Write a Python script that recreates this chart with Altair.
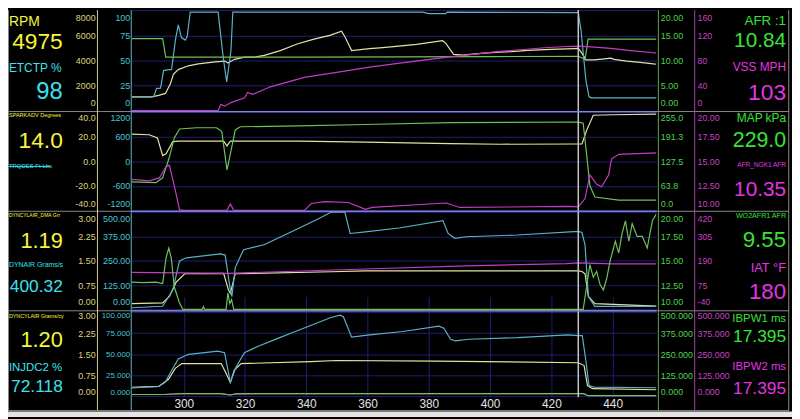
import altair as alt
import pandas as pd

FONT = "Liberation Sans"

# ---------------- data ----------------
T_DOMAIN = [283.0, 454.3]
X_TICKS = [300, 320, 340, 360, 380, 400, 420, 440]
CURSOR_T = [428.8]

# panel 1
rpm_t = [283.0, 289.5, 291.8, 294.0, 295.6, 296.6, 298.2, 301.5, 304.7, 307.5, 310.2, 313.4, 314.4, 315.4, 316.6, 319.9, 323.1, 326.3, 331.5, 337.0, 342.5, 347.7, 351.5, 352.6, 354.8, 360.6, 364.0, 369.3, 376.0, 384.5, 385.5, 388.1, 391.0, 396.0, 401.7, 407.0, 412.3, 420.0, 427.5, 428.8, 429.7, 431.3, 433.9, 436.5, 439.4, 440.5, 444.6, 449.0, 453.3, 454.3]
rpm_v = [1090, 1090, 1220, 1370, 2130, 2900, 3280, 3580, 3730, 3820, 3890, 3960, 3800, 3950, 4100, 4270, 4270, 4420, 4800, 5330, 5710, 6020, 6350, 5900, 4800, 4950, 5010, 5130, 5300, 5590, 5400, 4500, 4440, 4560, 4650, 4720, 4820, 4900, 4960, 4975, 4700, 4060, 4060, 4120, 4190, 4100, 3960, 3850, 3730, 3720]

etc_t = [283.0, 289.5, 290.2, 291.1, 292.4, 293.4, 295.0, 296.0, 297.3, 298.2, 299.2, 300.5, 301.1, 302.1, 311.2, 312.8, 314.0, 315.4, 316.0, 378.0, 380.0, 385.5, 386.0, 428.8, 429.7, 431.3, 432.3, 433.0, 454.3]
etc_v = [13.6, 13.6, 14.0, 22.2, 22.5, 40.0, 41.0, 41.0, 71.4, 85.7, 73.0, 70.5, 74.0, 98.5, 98.5, 55.0, 28.6, 60.0, 98.5, 98.5, 97.0, 97.0, 98.5, 98.0, 80.0, 30.0, 14.0, 12.7, 12.7]

afr_t = [283.0, 293.1, 294.1, 340.0, 400.0, 428.8, 430.2, 431.0, 432.0, 454.3]
afr_v = [14.4, 14.4, 10.7, 10.7, 10.8, 10.84, 10.5, 10.15, 14.3, 14.3]

vss_t = [283.0, 311.2, 312.1, 313.4, 315.4, 319.9, 320.8, 322.5, 328.3, 339.3, 349.9, 360.6, 369.3, 385.5, 401.6, 417.8, 425.0, 428.8, 433.0, 439.4, 446.0, 453.3, 454.3]
vss_v = [0, 0, 10, 7, 12.8, 20.3, 29, 26, 38, 53, 61, 69.6, 75, 85, 94, 100.5, 102.5, 103, 102, 99.5, 96, 92.5, 92]

# panel 2
spk_t = [283.0, 288.7, 291.4, 293.1, 294.2, 296.4, 298.6, 313.0, 314.1, 315.2, 337.2, 359.3, 386.8, 403.4, 428.8, 430.0, 431.5, 433.7, 440.0, 454.3]
spk_v = [22.1, 21.5, 18.9, 4.6, 6.0, 15.9, 16.3, 16.3, 12.4, 16.3, 16.3, 15.5, 14.3, 13.8, 14.0, 14.0, 25.0, 37.4, 37.8, 38.3]

map_t = [283.0, 290.9, 293.1, 295.3, 296.9, 298.6, 304.1, 310.7, 312.4, 314.1, 315.2, 316.8, 318.4, 337.2, 359.3, 386.8, 428.6, 428.8, 430.4, 431.5, 432.6, 434.2, 442.0, 454.3]
map_v = [73.7, 72.0, 84.4, 138.3, 188.0, 211.0, 214.3, 214.3, 204.3, 105.0, 146.5, 208.6, 216.8, 219.2, 222.7, 227.7, 229.2, 229.0, 226.0, 146.5, 63.8, 34.8, 26.6, 26.6]

ngk_t = [283.0, 288.7, 292.0, 294.2, 295.3, 296.9, 298.6, 299.7, 314.1, 315.2, 316.3, 339.4, 341.6, 346.0, 353.7, 359.3, 361.5, 385.7, 390.1, 425.4, 428.8, 431.0, 432.6, 434.8, 436.4, 438.7, 439.7, 442.0, 454.3]
ngk_v = [13.15, 13.0, 13.3, 14.45, 14.6, 12.5, 10.07, 9.5, 9.5, 10.65, 9.5, 9.6, 10.7, 10.9, 10.8, 10.1, 10.3, 10.75, 10.3, 10.4, 10.35, 11.2, 13.6, 12.65, 12.4, 13.6, 15.25, 15.7, 15.85]

# panel 3
dma_t = [283.0, 293.1, 295.3, 297.5, 300.3, 313.0, 314.6, 315.2, 316.8, 348.2, 359.3, 428.8, 430.0, 431.0, 432.1, 434.2, 454.3]
dma_v = [0.18, 0.20, 0.40, 0.84, 1.10, 1.11, 0.60, 0.50, 1.10, 1.16, 1.19, 1.19, 1.17, 1.10, 0.40, 0.18, 0.10]

dyn_t = [283.0, 293.1, 296.4, 298.6, 300.8, 311.9, 313.5, 315.2, 315.7, 316.8, 319.5, 326.2, 331.7, 337.2, 343.8, 348.2, 352.6, 354.3, 359.3, 370.3, 384.6, 386.3, 388.5, 392.3, 408.9, 428.8, 430.0, 431.0, 432.1, 434.2, 454.3]
dyn_v = [8.5, 16.4, 99.5, 249, 265, 285, 279, 99.5, 66, 215, 307, 332, 373, 414, 464, 505, 505, 390, 398, 418, 456, 390, 365, 373, 382, 400.3, 395, 332, 66, 16, 16]

wo2_t = [283.0, 286.5, 290.9, 293.1, 294.2, 295.1, 295.9, 296.9, 298.6, 299.7, 306.0, 306.4, 306.8, 313.8, 314.4, 315.0, 315.6, 316.3, 317.4, 318.4, 320.0, 428.8, 430.4, 431.5, 432.6, 433.7, 434.8, 435.9, 437.0, 438.1, 439.2, 440.9, 442.0, 443.1, 444.2, 445.3, 446.4, 448.0, 449.7, 451.3, 453.0, 454.3]
wo2_v = [12.8, 12.75, 12.8, 12.65, 15.3, 16.3, 15.3, 12.3, 10.67, 9.6, 9.6, 10.3, 9.6, 9.6, 11.7, 10.6, 11.0, 9.9, 9.8, 9.7, 9.55, 9.55, 9.84, 12.3, 14.6, 13.3, 13.9, 12.56, 12.0, 13.2, 15.0, 17.0, 15.8, 17.8, 19.1, 17.0, 18.8, 17.5, 17.5, 16.3, 19.1, 19.8]

iat_t = [283.0, 315.0, 359.3, 392.3, 425.0, 428.8, 440.0, 454.3]
iat_v = [135.3, 130.7, 150.9, 166.0, 176.5, 180.0, 175.0, 175.0]

# panel 4
cyl_t = [283.0, 291.8, 295.0, 297.2, 299.3, 312.2, 313.8, 315.2, 316.5, 318.7, 341.3, 349.9, 382.2, 428.8, 430.7, 431.8, 433.4, 454.3]
cyl_v = [0.33, 0.36, 0.61, 1.0, 1.17, 1.17, 0.83, 0.5, 0.94, 1.17, 1.24, 1.28, 1.26, 1.20, 1.10, 0.39, 0.28, 0.24]

inj_t = [283.0, 291.8, 293.9, 296.1, 298.2, 301.5, 306.8, 311.1, 313.3, 315.2, 317.1, 319.8, 324.1, 330.5, 337.0, 343.5, 347.8, 351.0, 352.1, 354.8, 360.7, 371.5, 383.3, 384.9, 387.1, 388.7, 393.0, 409.1, 425.3, 428.8, 430.1, 431.2, 432.3, 433.9, 454.3]
inj_v = [10.3, 11.9, 16.7, 31.4, 44.4, 50.0, 51.9, 53.7, 51.9, 16.7, 35.2, 51.9, 59.2, 68.6, 77.8, 87.0, 93.3, 96.3, 94.4, 70.3, 73.0, 77.0, 83.3, 80.8, 67.8, 65.9, 67.8, 69.7, 73.0, 72.1, 72.2, 44.4, 13.0, 11.1, 10.4]

pw1_t = [283.0, 293.5, 296.5, 299.0, 312.0, 315.2, 317.0, 330.0, 428.8, 430.5, 432.0, 454.3]
pw1_v = [12.0, 12.0, 15.0, 17.0, 17.0, 9.0, 16.0, 17.5, 17.4, 17.0, 5.0, 5.0]
pw2_t = [283.0, 293.5, 296.5, 299.0, 312.0, 315.2, 317.0, 330.0, 428.8, 430.5, 432.0, 454.3]
pw2_v = [12.0, 12.0, 15.0, 17.0, 17.0, 9.0, 16.0, 17.5, 17.4, 17.0, 5.0, 5.0]

# axis tick labels
RPM_TICKS = [0, 2000, 4000, 6000, 8000]
ETC_TICKS = [0, 25, 50, 75, 100]
AFR_TICKS = [0, 5, 10, 15, 20]
VSS_TICKS = [0, 40, 80, 120, 160]
SPK_TICKS = [-40, -20, 0, 20, 40]
TRQ_TICKS = [-1200, -600, 0, 600, 1200]
MAP_TICKS = [0, 63.75, 127.5, 191.25, 255]
NGK_TICKS = [10, 12.5, 15, 17.5, 20]
DMA_TICKS = [0, 0.75, 1.5, 2.25, 3]
DYN_TICKS = [0, 125, 250, 375, 500]
WO2_TICKS = [10, 12.5, 15, 17.5, 20]
IAT_TICKS = [-40, 75, 190, 305, 420]
CYL_TICKS = [0, 0.75, 1.5, 2.25, 3]
INJ_TICKS = [0, 25, 50, 75, 100]
PW_TICKS = [0, 125, 250, 375, 500]

# read-outs
LEFT_NAMES = ["RPM", "ETCTP %", "SPARKADV Degrees", "TRQDES Ft-Lbs", "DYNCYLAIR_DMA Grr", "DYNAIR Grams/s", "DYNCYLAIR Grams/cy", "INJDC2 %"]
LEFT_VALUES = ["4975", "98", "14.0", "", "1.19", "400.32", "1.20", "72.118"]
RIGHT_NAMES = ["AFR :1", "VSS MPH", "MAP kPa", "AFR_NGK1 AFR", "WO2AFR1 AFR", "IAT °F", "IBPW1 ms", "IBPW2 ms"]
RIGHT_VALUES = ["10.84", "103", "229.0", "10.35", "9.55", "180", "17.395", "17.395"]

# ---------------- layout / style ----------------
K = 411 / 419


def vy(ref_y):
    return ref_y * K


def lx(ref_x):
    return (ref_x - 2) * 125 / 131 - 125


def rx(ref_x):
    return ref_x - 133


PLOT_W = 530
PLOT_H = 391
PANELS = [[vy(103.5), vy(0.5)], [vy(206.3), vy(105.0)], [vy(308.3), vy(208.0)], [vy(398.0), vy(311.0)]]
FLUSH = [-3, -1.5, -2.5, 0]

YEL_LINE, CYA_LINE, GRN_LINE, MAG_LINE = "#e2e2a6", "#5cb0c8", "#6cc25a", "#c43cc4"
YEL_TXT, CYA_TXT, GRN_TXT, MAG_TXT = "#f6f63c", "#3ee0ee", "#38e238", "#e236e2"
YEL_AX, CYA_AX, GRN_AX, MAG_AX = "#dcd67a", "#48c4d4", "#4cd44c", "#c444c4"
YEL_FR, CYA_FR, GRN_FR, MAG_FR = "#d8d098", "#5ab8c8", "#6aa05c", "#a448a8"
GRID = "#1e1e72"
SEP = "#8484e8"
FRAME = "#8a8a8a"

MINUS_FIX = "replace(datum.label, '\u2212', '-')"

X_ENC = alt.X(
    "t:Q",
    scale=alt.Scale(domain=T_DOMAIN, nice=False, zero=False),
    axis=alt.Axis(values=X_TICKS, format="d", title=None, orient="bottom", domain=False, ticks=False,
                  labelColor="#e0e0e0", labelFont=FONT, labelFontSize=12, labelPadding=1,
                  labelOverlap=False, labelFlush=False, grid=True, gridColor=GRID, gridOpacity=1),
)


def yaxis(ticks, fmt, color, orient, offset, panel, grid=False, minus=False, size=9):
    kw = dict(values=ticks, format=fmt, orient=orient, offset=offset, title=None, domain=False, ticks=False,
              labelColor=color, labelFont=FONT, labelFontSize=size, labelPadding=2,
              labelFlush=True, labelFlushOffset=FLUSH[panel], labelOverlap=False, grid=grid)
    if grid:
        kw.update(gridColor=GRID, gridOpacity=1, gridWidth=1)
    if minus:
        kw["labelExpr"] = MINUS_FIX
    return alt.Axis(**kw)


def yscale(dom, panel):
    return alt.Scale(domain=dom, range=PANELS[panel], clamp=True, nice=False, zero=False)


def series(t, v, dom, panel, color, axis):
    df = pd.DataFrame({"t": t, "v": v})
    return alt.Chart(df).mark_line(color=color, strokeWidth=1.2, clip=True).encode(
        x=X_ENC, y=alt.Y("v:Q", scale=yscale(dom, panel), axis=axis))


DUMMY = pd.DataFrame({"k": [0]})


def txt(s, x, y, color, size, align):
    return alt.Chart(DUMMY).mark_text(text=s, align=align, baseline="middle", color=color,
                                      fontSize=size, font=FONT).encode(x=alt.value(x), y=alt.value(y))


def hrule(x1, x2, y, color, w=1.0):
    return alt.Chart(DUMMY).mark_rule(color=color, strokeWidth=w).encode(
        x=alt.value(x1), x2=alt.value(x2), y=alt.value(y))


def vrule(x, y1, y2, color, w=1.0):
    return alt.Chart(DUMMY).mark_rule(color=color, strokeWidth=w).encode(
        x=alt.value(x), y=alt.value(y1), y2=alt.value(y2))


layers = []

# grid-only / axis layers and data lines
# Panel 1
layers.append(series(rpm_t, rpm_v, [0, 8000], 0, YEL_LINE, yaxis(RPM_TICKS, "d", YEL_AX, "left", 35, 0)))
layers.append(series(etc_t, etc_v, [0, 100], 0, CYA_LINE, yaxis(ETC_TICKS, "d", CYA_AX, "left", 0, 0, grid=True)))
layers.append(series(afr_t, afr_v, [0, 20], 0, GRN_LINE, yaxis(AFR_TICKS, ".2f", GRN_AX, "right", 2, 0)))
layers.append(series(vss_t, vss_v, [0, 160], 0, MAG_LINE, yaxis(VSS_TICKS, "d", MAG_AX, "right", 39, 0)))
# Panel 2
layers.append(series(spk_t, spk_v, [-40, 40], 1, YEL_LINE, yaxis(SPK_TICKS, ".1f", YEL_AX, "left", 35, 1, minus=True)))
layers.append(alt.Chart(pd.DataFrame({"v": TRQ_TICKS})).mark_point(opacity=0).encode(
    y=alt.Y("v:Q", scale=yscale([-1200, 1200], 1),
            axis=yaxis(TRQ_TICKS, "d", CYA_AX, "left", 0, 1, grid=True, minus=True))))
layers.append(series(map_t, map_v, [0, 255], 1, GRN_LINE, yaxis(MAP_TICKS, ".1f", GRN_AX, "right", 2, 1)))
layers.append(series(ngk_t, ngk_v, [10, 20], 1, MAG_LINE, yaxis(NGK_TICKS, ".2f", MAG_AX, "right", 39, 1)))
# Panel 3
layers.append(series(dma_t, dma_v, [0, 3], 2, YEL_LINE, yaxis(DMA_TICKS, ".2f", YEL_AX, "left", 35, 2)))
layers.append(series(dyn_t, dyn_v, [0, 500], 2, CYA_LINE, yaxis(DYN_TICKS, ".2f", CYA_AX, "left", 0, 2, grid=True)))
layers.append(series(iat_t, iat_v, [-40, 420], 2, MAG_LINE, yaxis(IAT_TICKS, "d", MAG_AX, "right", 39, 2, minus=True)))
layers.append(series(wo2_t, wo2_v, [10, 20], 2, GRN_LINE, yaxis(WO2_TICKS, ".2f", GRN_AX, "right", 2, 2)))
# Panel 4
layers.append(series(cyl_t, cyl_v, [0, 3], 3, YEL_LINE, yaxis(CYL_TICKS, ".2f", YEL_AX, "left", 35, 3)))
layers.append(series(inj_t, inj_v, [0, 100], 3, CYA_LINE, yaxis(INJ_TICKS, ".3f", CYA_AX, "left", 0, 3, grid=True, size=8)))
layers.append(series(pw2_t, pw2_v, [0, 500], 3, MAG_LINE, yaxis(PW_TICKS, ".3f", MAG_AX, "right", 39, 3)))
layers.append(series(pw1_t, pw1_v, [0, 500], 3, GRN_LINE, yaxis(PW_TICKS, ".3f", GRN_AX, "right", 2, 3)))

# cursor
layers.append(alt.Chart(pd.DataFrame({"t": CURSOR_T})).mark_rule(color="#c4c4c4", strokeWidth=1.5).encode(
    x=X_ENC, y=alt.value(0), y2=alt.value(PLOT_H)))

# panel separators
for ry in [104.5, 207.2, 309.7]:
    layers.append(hrule(lx(2), rx(797), vy(ry), FRAME))
    layers.append(hrule(0, PLOT_W, vy(ry), SEP, 1.2))

# vertical axis lines
BOTTOM = vy(412.5)
layers.append(vrule(lx(96.7), 0, BOTTOM, YEL_FR))
layers.append(vrule(-0.5, 0, BOTTOM, CYA_FR))
layers.append(vrule(rx(665), 0, BOTTOM, GRN_FR))
layers.append(vrule(rx(701.7), 0, BOTTOM, MAG_FR))

# frame
layers.append(vrule(lx(2) + 0.5, 0, BOTTOM, FRAME))
layers.append(vrule(rx(796.7), 0, BOTTOM, FRAME))
layers.append(hrule(lx(2), rx(797), BOTTOM, FRAME))
layers.append(alt.Chart(DUMMY).mark_rect(color="#e4e4e4").encode(
    x=alt.value(lx(0)), x2=alt.value(rx(800)), y=alt.value(BOTTOM + 1), y2=alt.value(411)))

# strike through TRQDES label
layers.append(hrule(lx(3), lx(47), vy(161.0), CYA_TXT, 1.0))

# left read-outs
LEFT_NAME_Y = [12, 60, 108.3, 160.5, 210.7, 262.3, 315, 368.3]
LEFT_NAME_SIZE = [14, 12, 5.6, 6, 5.1, 7, 5.4, 11.5]
LEFT_VAL_Y = [33.3, 84, 135, 0, 238.3, 285, 340, 388]
LEFT_VAL_SIZE = [23, 24, 23, 0, 22, 17.5, 22, 17.5]
LEFT_COL = [YEL_TXT, CYA_TXT] * 4
for i in range(8):
    layers.append(txt(LEFT_NAMES[i], lx(3), vy(LEFT_NAME_Y[i]), LEFT_COL[i], LEFT_NAME_SIZE[i], "left"))
    if LEFT_VALUES[i]:
        layers.append(txt(LEFT_VALUES[i], lx(60), vy(LEFT_VAL_Y[i]), LEFT_COL[i], LEFT_VAL_SIZE[i], "right"))

# right read-outs
RIGHT_NAME_Y = [11, 59, 111.7, 160, 211.7, 266, 317.7, 367.7]
RIGHT_NAME_SIZE = [13.5, 12, 12, 6.6, 7.2, 13, 11.5, 11.5]
RIGHT_VAL_Y = [31.7, 85, 135, 185, 236.7, 290, 336.7, 390]
RIGHT_VAL_SIZE = [21, 23, 21.5, 21, 22.5, 22.5, 17.5, 17.5]
RIGHT_COL = [GRN_TXT, MAG_TXT] * 4
for i in range(8):
    layers.append(txt(RIGHT_NAMES[i], rx(794), vy(RIGHT_NAME_Y[i]), RIGHT_COL[i], RIGHT_NAME_SIZE[i], "right"))
    layers.append(txt(RIGHT_VALUES[i], rx(794), vy(RIGHT_VAL_Y[i]), RIGHT_COL[i], RIGHT_VAL_SIZE[i], "right"))

chart = (
    alt.layer(*layers)
    .properties(width=PLOT_W, height=PLOT_H,
                padding={"left": 125, "top": 0, "right": 137, "bottom": 20},
                autosize=alt.AutoSizeParams(type="none"))
    .resolve_scale(y="independent")
    .resolve_axis(y="independent")
    .configure(background="black")
    .configure_view(stroke=None)
)

chart.save("out.html", embed_options={"renderer": "svg", "actions": False})
